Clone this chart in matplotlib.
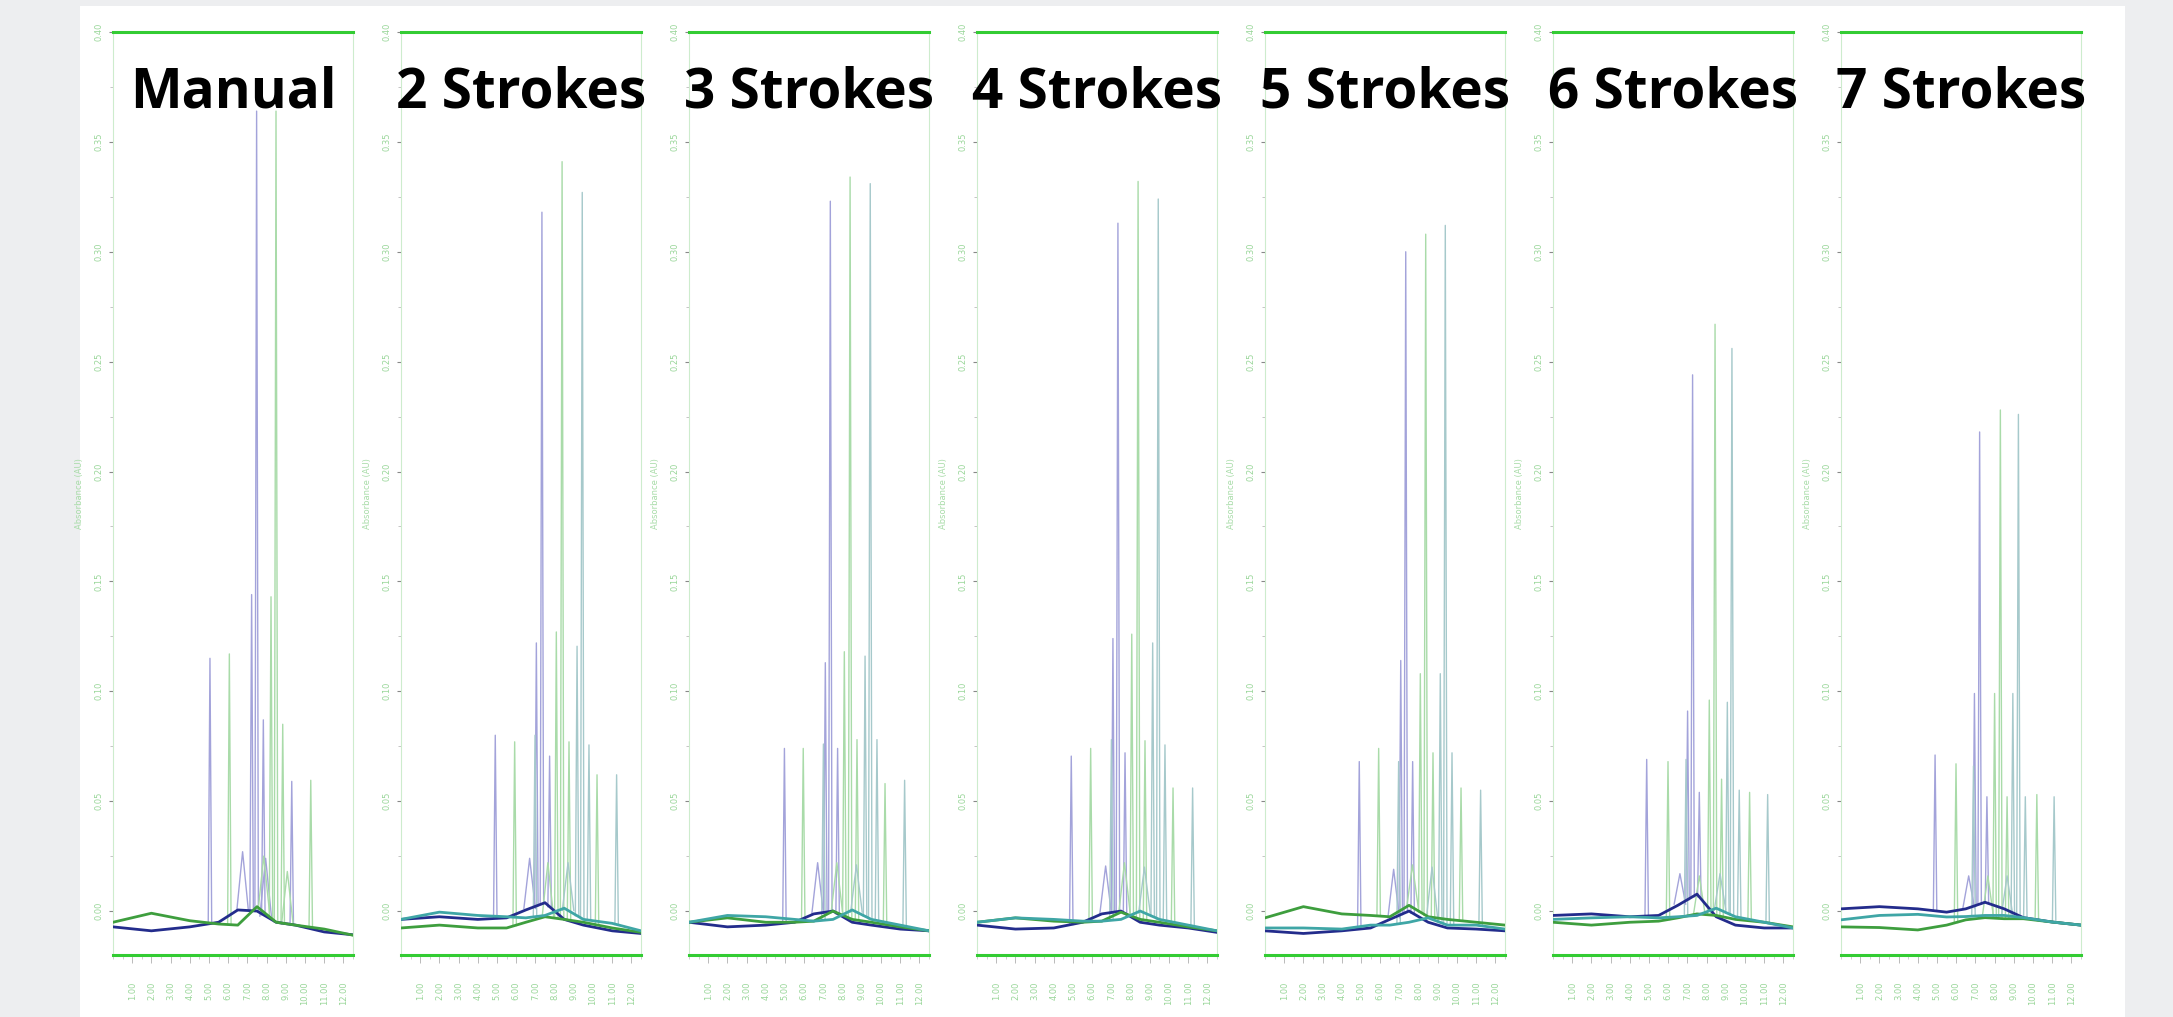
import numpy as np
import matplotlib.pyplot as plt
from matplotlib.patches import Rectangle
from matplotlib.ticker import MultipleLocator

W, H = 2173, 1017

titles = ['Manual', '2 Strokes', '3 Strokes', '4 Strokes', '5 Strokes', '6 Strokes', '7 Strokes']
x_ticks = [1, 2, 3, 4, 5, 6, 7, 8, 9, 10, 11, 12]
y_ticks = [0.0, 0.05, 0.10, 0.15, 0.20, 0.25, 0.30, 0.35, 0.40]

# baseline drift, read at these retention times
base_x = [0, 2, 4, 5.5, 6.5, 7.5, 8.5, 9.5, 11, 12.5]

blue_base = [
    [-0.0072, -0.009, -0.0072, -0.0051, 0.0005, 0.0, -0.0051, -0.0064, -0.0095, -0.0108],
    [-0.0038, -0.0026, -0.0038, -0.0031, 0.0005, 0.0038, -0.0038, -0.0064, -0.009, -0.0102],
    [-0.0051, -0.0072, -0.0064, -0.0051, -0.0013, 0.0, -0.0051, -0.0064, -0.0082, -0.009],
    [-0.0064, -0.0082, -0.0077, -0.0051, -0.0013, 0.0, -0.0051, -0.0064, -0.0077, -0.0097],
    [-0.009, -0.0102, -0.009, -0.0077, -0.0038, 0.0, -0.0051, -0.0077, -0.0082, -0.009],
    [-0.002, -0.0013, -0.0026, -0.002, 0.0026, 0.0077, -0.0026, -0.0064, -0.0077, -0.0077],
    [0.001, 0.002, 0.001, -0.0005, 0.001, 0.004, 0.001, -0.003, -0.005, -0.0064],
]
green_base = [
    [-0.0051, -0.001, -0.0044, -0.0059, -0.0064, 0.002, -0.0051, -0.0064, -0.0082, -0.011],
    [-0.0077, -0.0064, -0.0077, -0.0077, -0.0051, -0.0026, -0.0038, -0.0051, -0.0077, -0.0097],
    [-0.0051, -0.0031, -0.0051, -0.0051, -0.0046, 0.0, -0.0038, -0.0051, -0.0072, -0.009],
    [-0.0051, -0.0031, -0.0046, -0.0051, -0.0046, -0.0005, -0.0038, -0.0051, -0.0072, -0.009],
    [-0.0031, 0.002, -0.0013, -0.002, -0.0026, 0.0026, -0.0026, -0.0038, -0.0051, -0.0064],
    [-0.0051, -0.0064, -0.0051, -0.0046, -0.0031, -0.0013, -0.002, -0.0038, -0.0051, -0.0072],
    [-0.0072, -0.0075, -0.0086, -0.0064, -0.004, -0.003, -0.0035, -0.0035, -0.005, -0.0064],
]
teal_base = [
    None,
    [-0.0038, -0.0005, -0.002, -0.0026, -0.0031, -0.002, 0.0013, -0.0038, -0.0056, -0.009],
    [-0.0051, -0.002, -0.0026, -0.0038, -0.0046, -0.0038, 0.0005, -0.0038, -0.0064, -0.009],
    [-0.0051, -0.0031, -0.0038, -0.0046, -0.0046, -0.0038, 0.0, -0.0038, -0.0064, -0.009],
    [-0.0077, -0.0077, -0.0082, -0.0064, -0.0064, -0.0051, -0.0031, -0.0064, -0.0064, -0.0082],
    [-0.0038, -0.0031, -0.0026, -0.0031, -0.0026, -0.002, 0.0013, -0.0026, -0.0051, -0.0077],
    [-0.004, -0.002, -0.0015, -0.0027, -0.0025, -0.002, -0.002, -0.003, -0.005, -0.0064],
]

# peaks: retention time and apex absorbance
blue_pk_x = [
    [5.05, 6.75, 7.22, 7.48, 7.83, 7.95, 9.31],
    [4.91, 6.70, 7.05, 7.34, 7.74],
    [4.97, 6.70, 7.10, 7.36, 7.74],
    [4.91, 6.70, 7.08, 7.34, 7.71],
    [4.91, 6.70, 7.07, 7.33, 7.69],
    [4.88, 6.61, 7.01, 7.27, 7.62],
    [4.90, 6.65, 6.95, 7.22, 7.60],
]
blue_pk_h = [
    [0.115, 0.027, 0.144, 0.364, 0.087, 0.024, 0.059],
    [0.080, 0.024, 0.122, 0.318, 0.0705],
    [0.074, 0.022, 0.113, 0.323, 0.074],
    [0.0705, 0.0205, 0.124, 0.313, 0.072],
    [0.068, 0.019, 0.114, 0.300, 0.068],
    [0.069, 0.017, 0.091, 0.244, 0.054],
    [0.071, 0.016, 0.099, 0.218, 0.052],
]
green_pk_x = [
    [6.06, 7.85, 8.23, 8.49, 8.84, 9.08, 10.30],
    [5.92, 7.65, 8.09, 8.39, 8.75, 10.21],
    [5.95, 7.70, 8.09, 8.39, 8.75, 10.21],
    [5.92, 7.68, 8.06, 8.39, 8.75, 10.21],
    [5.92, 7.68, 8.09, 8.37, 8.75, 10.21],
    [5.99, 7.62, 8.14, 8.44, 8.78, 10.24],
    [5.99, 7.65, 8.00, 8.30, 8.65, 10.20],
]
green_pk_h = [
    [0.117, 0.025, 0.143, 0.364, 0.085, 0.018, 0.0595],
    [0.077, 0.022, 0.127, 0.341, 0.077, 0.062],
    [0.074, 0.022, 0.118, 0.334, 0.078, 0.058],
    [0.074, 0.022, 0.126, 0.332, 0.0775, 0.056],
    [0.074, 0.021, 0.108, 0.308, 0.072, 0.056],
    [0.068, 0.016, 0.096, 0.267, 0.060, 0.054],
    [0.067, 0.016, 0.099, 0.228, 0.052, 0.053],
]
teal_pk_x = [
    [],
    [6.98, 8.70, 9.17, 9.44, 9.79, 11.23],
    [7.00, 8.72, 9.17, 9.44, 9.79, 11.23],
    [7.00, 8.72, 9.15, 9.44, 9.79, 11.23],
    [6.96, 8.70, 9.13, 9.39, 9.74, 11.23],
    [6.93, 8.70, 9.08, 9.32, 9.70, 11.18],
    [6.90, 8.65, 8.95, 9.24, 9.60, 11.10],
]
teal_pk_h = [
    [],
    [0.080, 0.022, 0.1205, 0.327, 0.0756, 0.062],
    [0.076, 0.021, 0.116, 0.331, 0.078, 0.0595],
    [0.078, 0.020, 0.122, 0.324, 0.0756, 0.056],
    [0.068, 0.020, 0.108, 0.312, 0.072, 0.055],
    [0.069, 0.017, 0.095, 0.256, 0.055, 0.053],
    [0.066, 0.016, 0.099, 0.226, 0.052, 0.052],
]

series = [
    (blue_base, blue_pk_x, blue_pk_h, '#a3a3da', '#232c8c'),
    (green_base, green_pk_x, green_pk_h, '#a9dba9', '#3e9e3e'),
    (teal_base, teal_pk_x, teal_pk_h, '#a6c9cb', '#3fa6a6'),
]

fig = plt.figure(figsize=(W / 100, H / 100), dpi=100)
fig.patch.set_facecolor('#edeef0')
fig.add_artist(Rectangle((80 / W, 0), (2125 - 80) / W, (H - 6) / H, transform=fig.transFigure,
                         facecolor='white', edgecolor='none', zorder=-5))


def spikes(ax, px, ph, by, color):
    for x, h in zip(px, ph):
        w = 0.3 if h < 0.03 else 0.09
        b = np.interp(x, base_x, by)
        ax.plot([x - w, x, x + w], [b, h, b], color=color, lw=1.0, zorder=2)


for i, title in enumerate(titles):
    ax = fig.add_axes([(113 + 288 * i) / W, (H - 955) / H, 240 / W, 923 / H])
    ax.set_facecolor('none')
    ax.set_xlim(0, 12.5)
    ax.set_ylim(-0.02, 0.40)

    for base, pkx, pkh, light, dark in series:
        if base[i] is None:
            continue
        spikes(ax, pkx[i], pkh[i], base[i], light)
        ax.plot(base_x, base[i], color=dark, lw=2.0, zorder=3)

    for side in ['left', 'right']:
        ax.spines[side].set_color('#cdeccd')
        ax.spines[side].set_linewidth(0.8)
    for side in ['top', 'bottom']:
        ax.spines[side].set_color('#33cc33')
        ax.spines[side].set_linewidth(2.2)

    ax.set_xticks(x_ticks)
    ax.set_xticklabels(['%.2f' % v for v in x_ticks], rotation=90, fontsize=6, color='#99d699')
    ax.xaxis.set_minor_locator(MultipleLocator(0.5))
    ax.tick_params(axis='x', which='major', length=6, width=0.6, color='#b0b0b0', pad=13)
    ax.tick_params(axis='x', which='minor', length=3, width=0.6, color='#c8c8c8')

    ax.set_yticks(y_ticks)
    ax.set_yticklabels(['%.2f' % v for v in y_ticks], rotation=90, fontsize=6, color='#99d699',
                       va='center')
    ax.yaxis.set_minor_locator(MultipleLocator(0.025))
    ax.tick_params(axis='y', which='major', length=3, width=0.8, color='#888888', pad=4)
    ax.tick_params(axis='y', which='minor', length=2, width=0.6, color='#bbbbbb')

    ax.set_ylabel('Absorbance (AU)', fontsize=6, color='#a8dca8')
    ax.yaxis.set_label_coords(-0.12, 0.5)

    ax.text(0.5, 0.9177, title, transform=ax.transAxes, ha='center', va='baseline',
            fontsize=39.5, fontweight='bold', family='Open Sans', color='black', zorder=10)

fig.savefig('out.png', dpi=100, facecolor=fig.get_facecolor())
